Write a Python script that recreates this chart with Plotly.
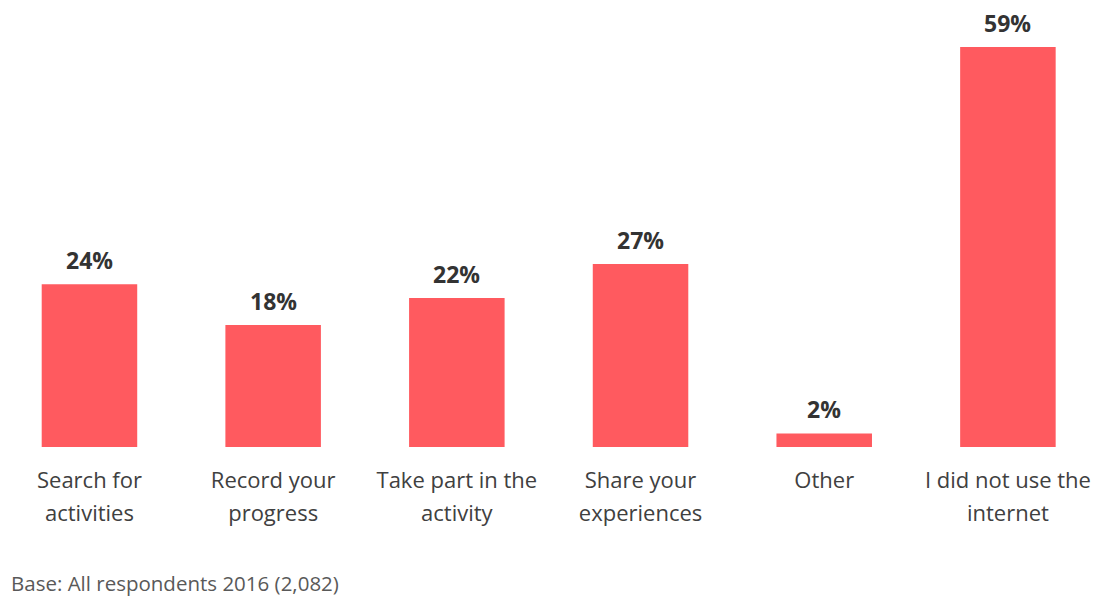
import plotly.graph_objects as go

categories = ["Search for activities", "Record your progress", "Take part in the activity",
              "Share your experiences", "Other", "I did not use the internet"]
tick_lines = [["Search for", "activities"], ["Record your", "progress"], ["Take part in the", "activity"],
              ["Share your", "experiences"], ["Other"], ["I did not use the", "internet"]]
values = [24, 18, 22, 27, 2, 59]
value_labels = ["24%", "18%", "22%", "27%", "2%", "59%"]
footnote = "Base: All respondents 2016 (2,082)"

BAR = "#FF5A5F"
FONT = "Open Sans"

ticktext = ["<br>".join(f"<span style='font-size:22px'>{l}</span>" for l in lines) for lines in tick_lines]

fig = go.Figure(go.Bar(x=categories, y=values, marker=dict(color=BAR, line=dict(width=0)),
                       width=0.52, hoverinfo="skip"))

for c, v, t in zip(categories, values, value_labels):
    fig.add_annotation(x=c, y=v, text=f"<b>{t}</b>", showarrow=False, yanchor="bottom", yshift=6,
                       font=dict(family=FONT, size=23, color="#333333"))

fig.add_annotation(xref="paper", yref="paper", x=0, y=-0.3185, xshift=9, xanchor="left", yanchor="middle",
                   text=footnote, showarrow=False, font=dict(family=FONT, size=20.5, color="#595959"))

fig.update_layout(
    width=1097, height=597, margin=dict(l=0, r=0, t=20, b=150),
    paper_bgcolor="white", plot_bgcolor="white", showlegend=False, hovermode=False,
    xaxis=dict(tickmode="array", tickvals=categories, ticktext=ticktext, range=[-0.487, 5.485],
               showgrid=False, zeroline=False, showline=False, ticks="",
               tickfont=dict(family=FONT, size=25, color="#404040"), ticklabelstandoff=15),
    yaxis=dict(range=[0, 63], visible=False),
)

fig.write_html("out.html", config={"displayModeBar": False},
               post_script="document.body.style.margin='0';document.body.style.overflow='hidden';")
